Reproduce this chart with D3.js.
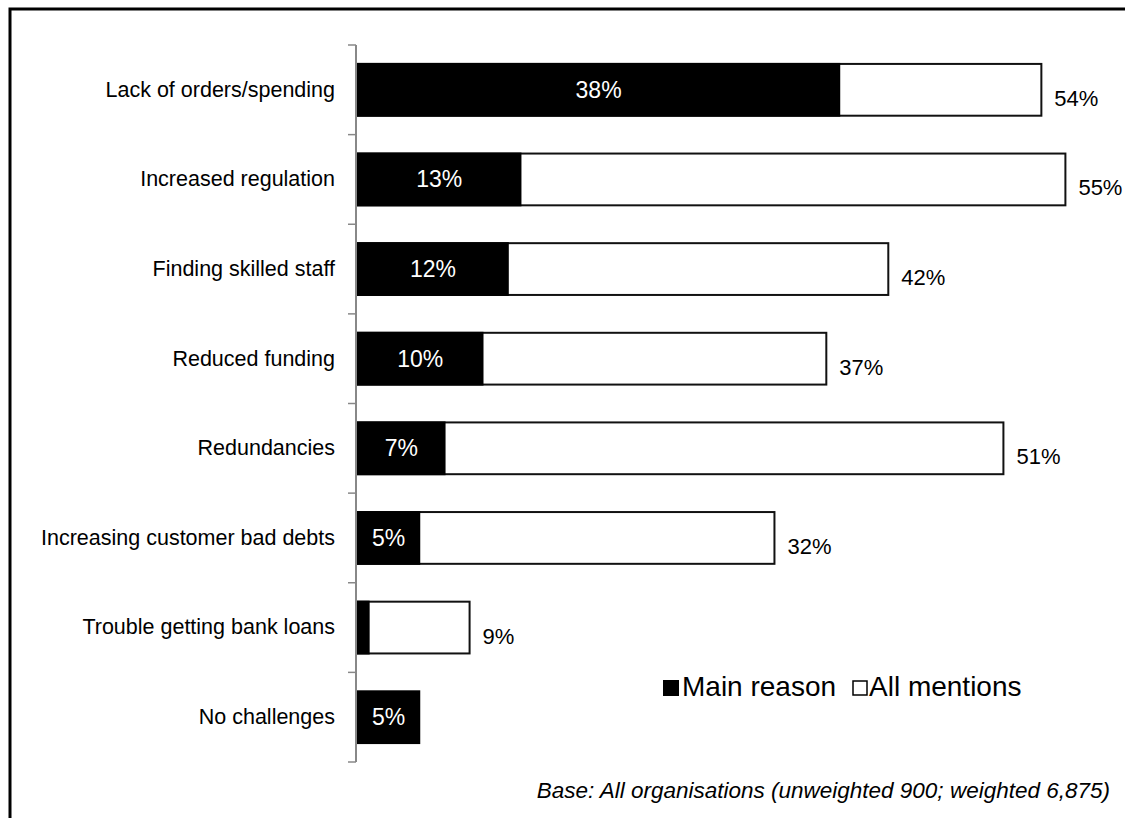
<!DOCTYPE html>
<html lang="en">
<head>
    <meta charset="UTF-8">
    <title>Business challenges</title>
    <script src="https://d3js.org/d3.v7.min.js"></script>
    <style>
        body { margin: 0; background: #fff; }
        svg text { font-family: "Liberation Sans", Arial, sans-serif; }
    </style>
</head>
<body>
<svg width="1125" height="818"></svg>
<script>
    // Categories and values
    const categories = ["Lack of orders/spending", "Increased regulation", "Finding skilled staff",
        "Reduced funding", "Redundancies", "Increasing customer bad debts",
        "Trouble getting bank loans", "No challenges"];
    const mainReason = [38.2, 13.0, 12.0, 10.0, 7.0, 5.0, 1.0, 5.0];
    const allMentions = [54.1, 56.0, 42.0, 37.1, 51.1, 33.0, 8.9, null];
    const mainLabels = ["38%", "13%", "12%", "10%", "7%", "5%", "", "5%"];
    const allLabels = ["54%", "55%", "42%", "37%", "51%", "32%", "9%", ""];
    const legendItems = ["Main reason", "All mentions"];

    const data = categories.map((c, i) => ({
        cat: c, main: mainReason[i], all: allMentions[i],
        mainLabel: mainLabels[i], allLabel: allLabels[i]
    }));

    const svg = d3.select("svg");

    // frame around the chart area
    svg.append("path")
        .attr("d", "M10,818 L10,9 L1125,9")
        .attr("fill", "none")
        .attr("stroke", "#000")
        .attr("stroke-width", 3);

    const x = d3.scaleLinear().domain([0, 60]).range([357, 1116]);
    const y = d3.scaleBand().domain(categories).range([45, 762])
        .paddingInner(0.4).paddingOuter(0.2);

    // All mentions (white bars with outline)
    svg.selectAll(".all")
        .data(data.filter(d => d.all != null))
        .enter().append("rect")
        .attr("class", "all")
        .attr("x", x(0))
        .attr("y", d => y(d.cat) + 1)
        .attr("width", d => x(d.all) - x(0))
        .attr("height", y.bandwidth() - 2)
        .attr("fill", "#fff")
        .attr("stroke", "#111")
        .attr("stroke-width", 2);

    // Main reason (black bars)
    svg.selectAll(".main")
        .data(data)
        .enter().append("rect")
        .attr("class", "main")
        .attr("x", x(0))
        .attr("y", d => y(d.cat))
        .attr("width", d => x(d.main) - x(0))
        .attr("height", y.bandwidth())
        .attr("fill", "#000");

    // value labels inside black bars
    svg.selectAll(".mainLabel")
        .data(data)
        .enter().append("text")
        .attr("x", d => (x(0) + x(d.main)) / 2)
        .attr("y", d => y(d.cat) + y.bandwidth() / 2 + 8)
        .attr("text-anchor", "middle")
        .attr("fill", "#fff")
        .attr("font-size", 23)
        .text(d => d.mainLabel);

    // value labels after white bars
    svg.selectAll(".allLabel")
        .data(data.filter(d => d.all != null))
        .enter().append("text")
        .attr("x", d => x(d.all) + 13)
        .attr("y", d => y(d.cat) + y.bandwidth() / 2 + 16)
        .attr("fill", "#000")
        .attr("font-size", 22)
        .text(d => d.allLabel);

    // Y axis
    const yAxis = svg.append("g")
        .attr("transform", "translate(356,0)")
        .call(d3.axisLeft(y).tickSize(0).tickPadding(21));
    yAxis.select(".domain").remove();
    yAxis.selectAll("text")
        .attr("font-size", 21.5)
        .attr("fill", "#000")
        .style("font-family", "'Liberation Sans', Arial, sans-serif");

    // axis line and tick marks between categories
    svg.append("line")
        .attr("x1", 356).attr("x2", 356)
        .attr("y1", 45).attr("y2", 762)
        .attr("stroke", "#888").attr("stroke-width", 2);
    const tickYs = d3.range(categories.length + 1).map(i => 45 + i * y.step());
    svg.selectAll(".tick-mark")
        .data(tickYs)
        .enter().append("line")
        .attr("x1", 348).attr("x2", 356)
        .attr("y1", d => d).attr("y2", d => d)
        .attr("stroke", "#888").attr("stroke-width", 1.5);

    // Legend
    const legend = svg.append("g").attr("transform", "translate(663,680)");
    legend.append("rect")
        .attr("x", 0).attr("y", 0).attr("width", 16).attr("height", 16)
        .attr("fill", "#000");
    legend.append("text")
        .attr("x", 19).attr("y", 16)
        .attr("font-size", 28)
        .text(legendItems[0]);
    legend.append("rect")
        .attr("x", 190).attr("y", 1).attr("width", 14).attr("height", 14)
        .attr("fill", "#fff").attr("stroke", "#000").attr("stroke-width", 1.5);
    legend.append("text")
        .attr("x", 206).attr("y", 16)
        .attr("font-size", 28)
        .text(legendItems[1]);

    // Base note
    svg.append("text")
        .attr("x", 1110).attr("y", 798)
        .attr("text-anchor", "end")
        .attr("font-size", 22.5)
        .attr("font-style", "italic")
        .text("Base: All organisations (unweighted 900; weighted 6,875)");
</script>
</body>
</html>
